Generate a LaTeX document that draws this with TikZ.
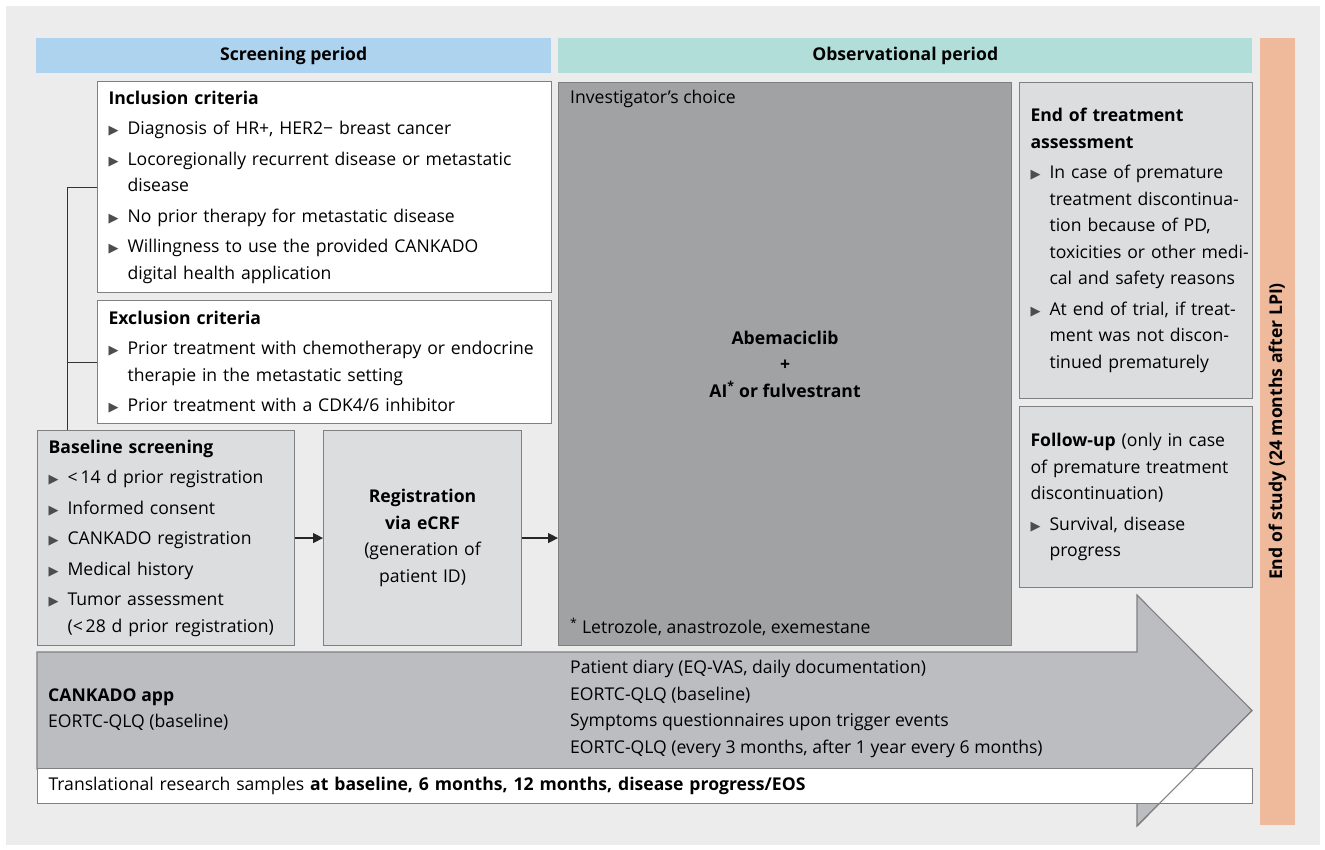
\documentclass[tikz,border=0pt]{standalone}
\usepackage{fontspec}
\setmainfont{Open Sans}
\newfontfamily\symfont{DejaVu Sans}
\usetikzlibrary{positioning,arrows.meta,calc}

\definecolor{bggray}{HTML}{EBECEB}
\definecolor{screenblue}{HTML}{AED3EE}
\definecolor{obsteal}{HTML}{B2DEDA}
\definecolor{eosorange}{HTML}{EFB99C}
\definecolor{darkbox}{HTML}{A1A2A4}
\definecolor{lightbox}{HTML}{DCDDDF}
\definecolor{arrowgray}{HTML}{BCBDC1}
\definecolor{linegray}{HTML}{808080}
\definecolor{bulletgray}{HTML}{4D4D4D}

\newcommand\bulsym{\textcolor{bulletgray}{\symfont\fontsize{13}{13}\selectfont ▶}}
\newcommand\itm{\par\vspace{4pt}\hangindent=19pt\hangafter=1\noindent\makebox[19pt][l]{\bulsym}}

\begin{document}
\begin{tikzpicture}[
    x=1pt, y=-1pt,
    box/.style={rectangle, draw=linegray, line width=1.1pt, anchor=north west, align=left, inner xsep=11pt, inner ysep=0pt, font=\fontsize{17.6}{26.5}\selectfont},
    whitebox/.style={box, fill=white},
    greybox/.style={box, fill=lightbox},
    header/.style={rectangle, anchor=north west, minimum height=35pt, inner sep=0pt, font=\bfseries\fontsize{17.6}{19}\selectfont},
    plain/.style={inner sep=0pt, align=left, font=\fontsize{17.6}{26.5}\selectfont},
    arrow/.style={-{Triangle[length=10pt,width=10pt]}, line width=1.3pt, draw=black!85}
]
\useasboundingbox (0,0) rectangle (1325,850);
\fill[bggray] (6,6) rectangle (1320,845);

% ============ HEADERS ============
\node[header, fill=screenblue, minimum width=515pt] (screen) at (36,38) {Screening period};
\node[header, fill=obsteal, minimum width=694pt] (obs) at (558,38) {Observational period};
\node[rectangle, fill=eosorange, rotate=90, minimum width=787pt, minimum height=35pt, inner sep=0pt,
      font=\bfseries\fontsize{17.6}{19}\selectfont] (eos) at (1277.5,431.5) {End of study (24 months after LPI)};

% ============ SCREENING ============
\node[whitebox, minimum width=454pt, minimum height=211pt, text width=432pt] (incl) at (97,81)
  {\textbf{Inclusion criteria}
   \itm \mbox{Diagnosis of HR+, HER2− breast cancer}
   \itm \mbox{Locoregionally recurrent disease or metastatic}\newline disease
   \itm \mbox{No prior therapy for metastatic disease}
   \itm \mbox{Willingness to use the provided CANKADO}\newline digital health application\par};
\node[whitebox, minimum width=454pt, minimum height=123pt, text width=432pt] (excl) at (97,300)
  {\textbf{Exclusion criteria}
   \itm \mbox{Prior treatment with chemotherapy or endocrine}\newline \mbox{therapie in the metastatic setting}
   \itm \mbox{Prior treatment with a CDK4/6 inhibitor}\par};

\node[greybox, minimum width=257pt, minimum height=215pt, text width=235pt] (baseline) at (37,430)
  {\textbf{Baseline screening}
   \itm \mbox{<\,14 d prior registration}
   \itm Informed consent
   \itm \mbox{CANKADO registration}
   \itm Medical history
   \itm Tumor assessment\newline \mbox{(<\,28 d prior registration)}\par};
\node[greybox, minimum width=198pt, minimum height=215pt, text width=176pt, align=center] (registration) at (323,430)
  {\textbf{Registration}\\\textbf{via eCRF}\\(generation of\\patient ID)};

% bracket
\coordinate (brk) at ($(baseline.north west)+(30,0)$);
\draw[black!80, line width=1pt] (incl.west) -| (brk);
\draw[black!80, line width=1pt] (excl.west) -| (brk);

% ============ OBSERVATION ============
\node[box, fill=darkbox, minimum width=453pt, minimum height=563pt, align=center,
      font=\bfseries\fontsize{17.6}{26.5}\selectfont] (treat) at (558,82)
  {Abemaciclib\\+\\AI\textsuperscript{*} or fulvestrant};
\node[plain, anchor=base west] (choice) at ($(treat.north west)+(12,21.5)$) {Investigator’s choice};
\node[plain, anchor=base west] (footnote) at ($(treat.south west)+(12,-12.5)$) {\textsuperscript{*} Letrozole, anastrozole, exemestane};

\node[greybox, minimum width=233pt, minimum height=316pt, text width=211pt] (eot) at (1019,82)
  {\textbf{End of treatment}\newline\textbf{assessment}
   \itm \mbox{In case of premature}\newline \mbox{treatment discontinua-}\newline \mbox{tion because of PD,}\newline \mbox{toxicities or other medi-}\newline \mbox{cal and safety reasons}
   \itm \mbox{At end of trial, if treat-}\newline \mbox{ment was not discon-}\newline \mbox{tinued prematurely}\par};
\node[greybox, minimum width=233pt, minimum height=181pt, text width=211pt] (followup) at (1019,406)
  {\mbox{\textbf{Follow-up} (only in case}\newline \mbox{of premature treatment}\newline discontinuation)
   \itm \mbox{Survival, disease}\newline progress\par};

% ============ CONNEXIONS ============
\draw[arrow] (baseline.east) -- (registration.west);
\draw[arrow] (registration.east) -- (registration.east -| treat.west);

% ============ CANKADO APP ============
\path[fill=arrowgray, draw=linegray, line width=1.1pt] (37,652) -- (1137,652) -- (1137,595) -- (1252,710.5)
  -- (1137,826) -- (1137,769) -- (37,769) -- cycle;
\node[plain, anchor=west] (app) at (48,709.5) {\textbf{CANKADO app}\\EORTC-QLQ (baseline)};
\node[plain, anchor=west] (applist) at (570,709) {Patient diary (EQ-VAS, daily documentation)\\EORTC-QLQ (baseline)\\Symptoms questionnaires upon trigger events\\EORTC-QLQ (every 3 months, after 1 year every 6 months)};

\node[whitebox, minimum width=1215pt, minimum height=35pt, text width=1193pt] (samples) at (37,768)
  {Translational research samples \textbf{at baseline, 6 months, 12 months, disease progress/EOS}};
\draw[linegray, line width=1.1pt] (1137,826) -- (1252,710.5);

\end{tikzpicture}
\end{document}
